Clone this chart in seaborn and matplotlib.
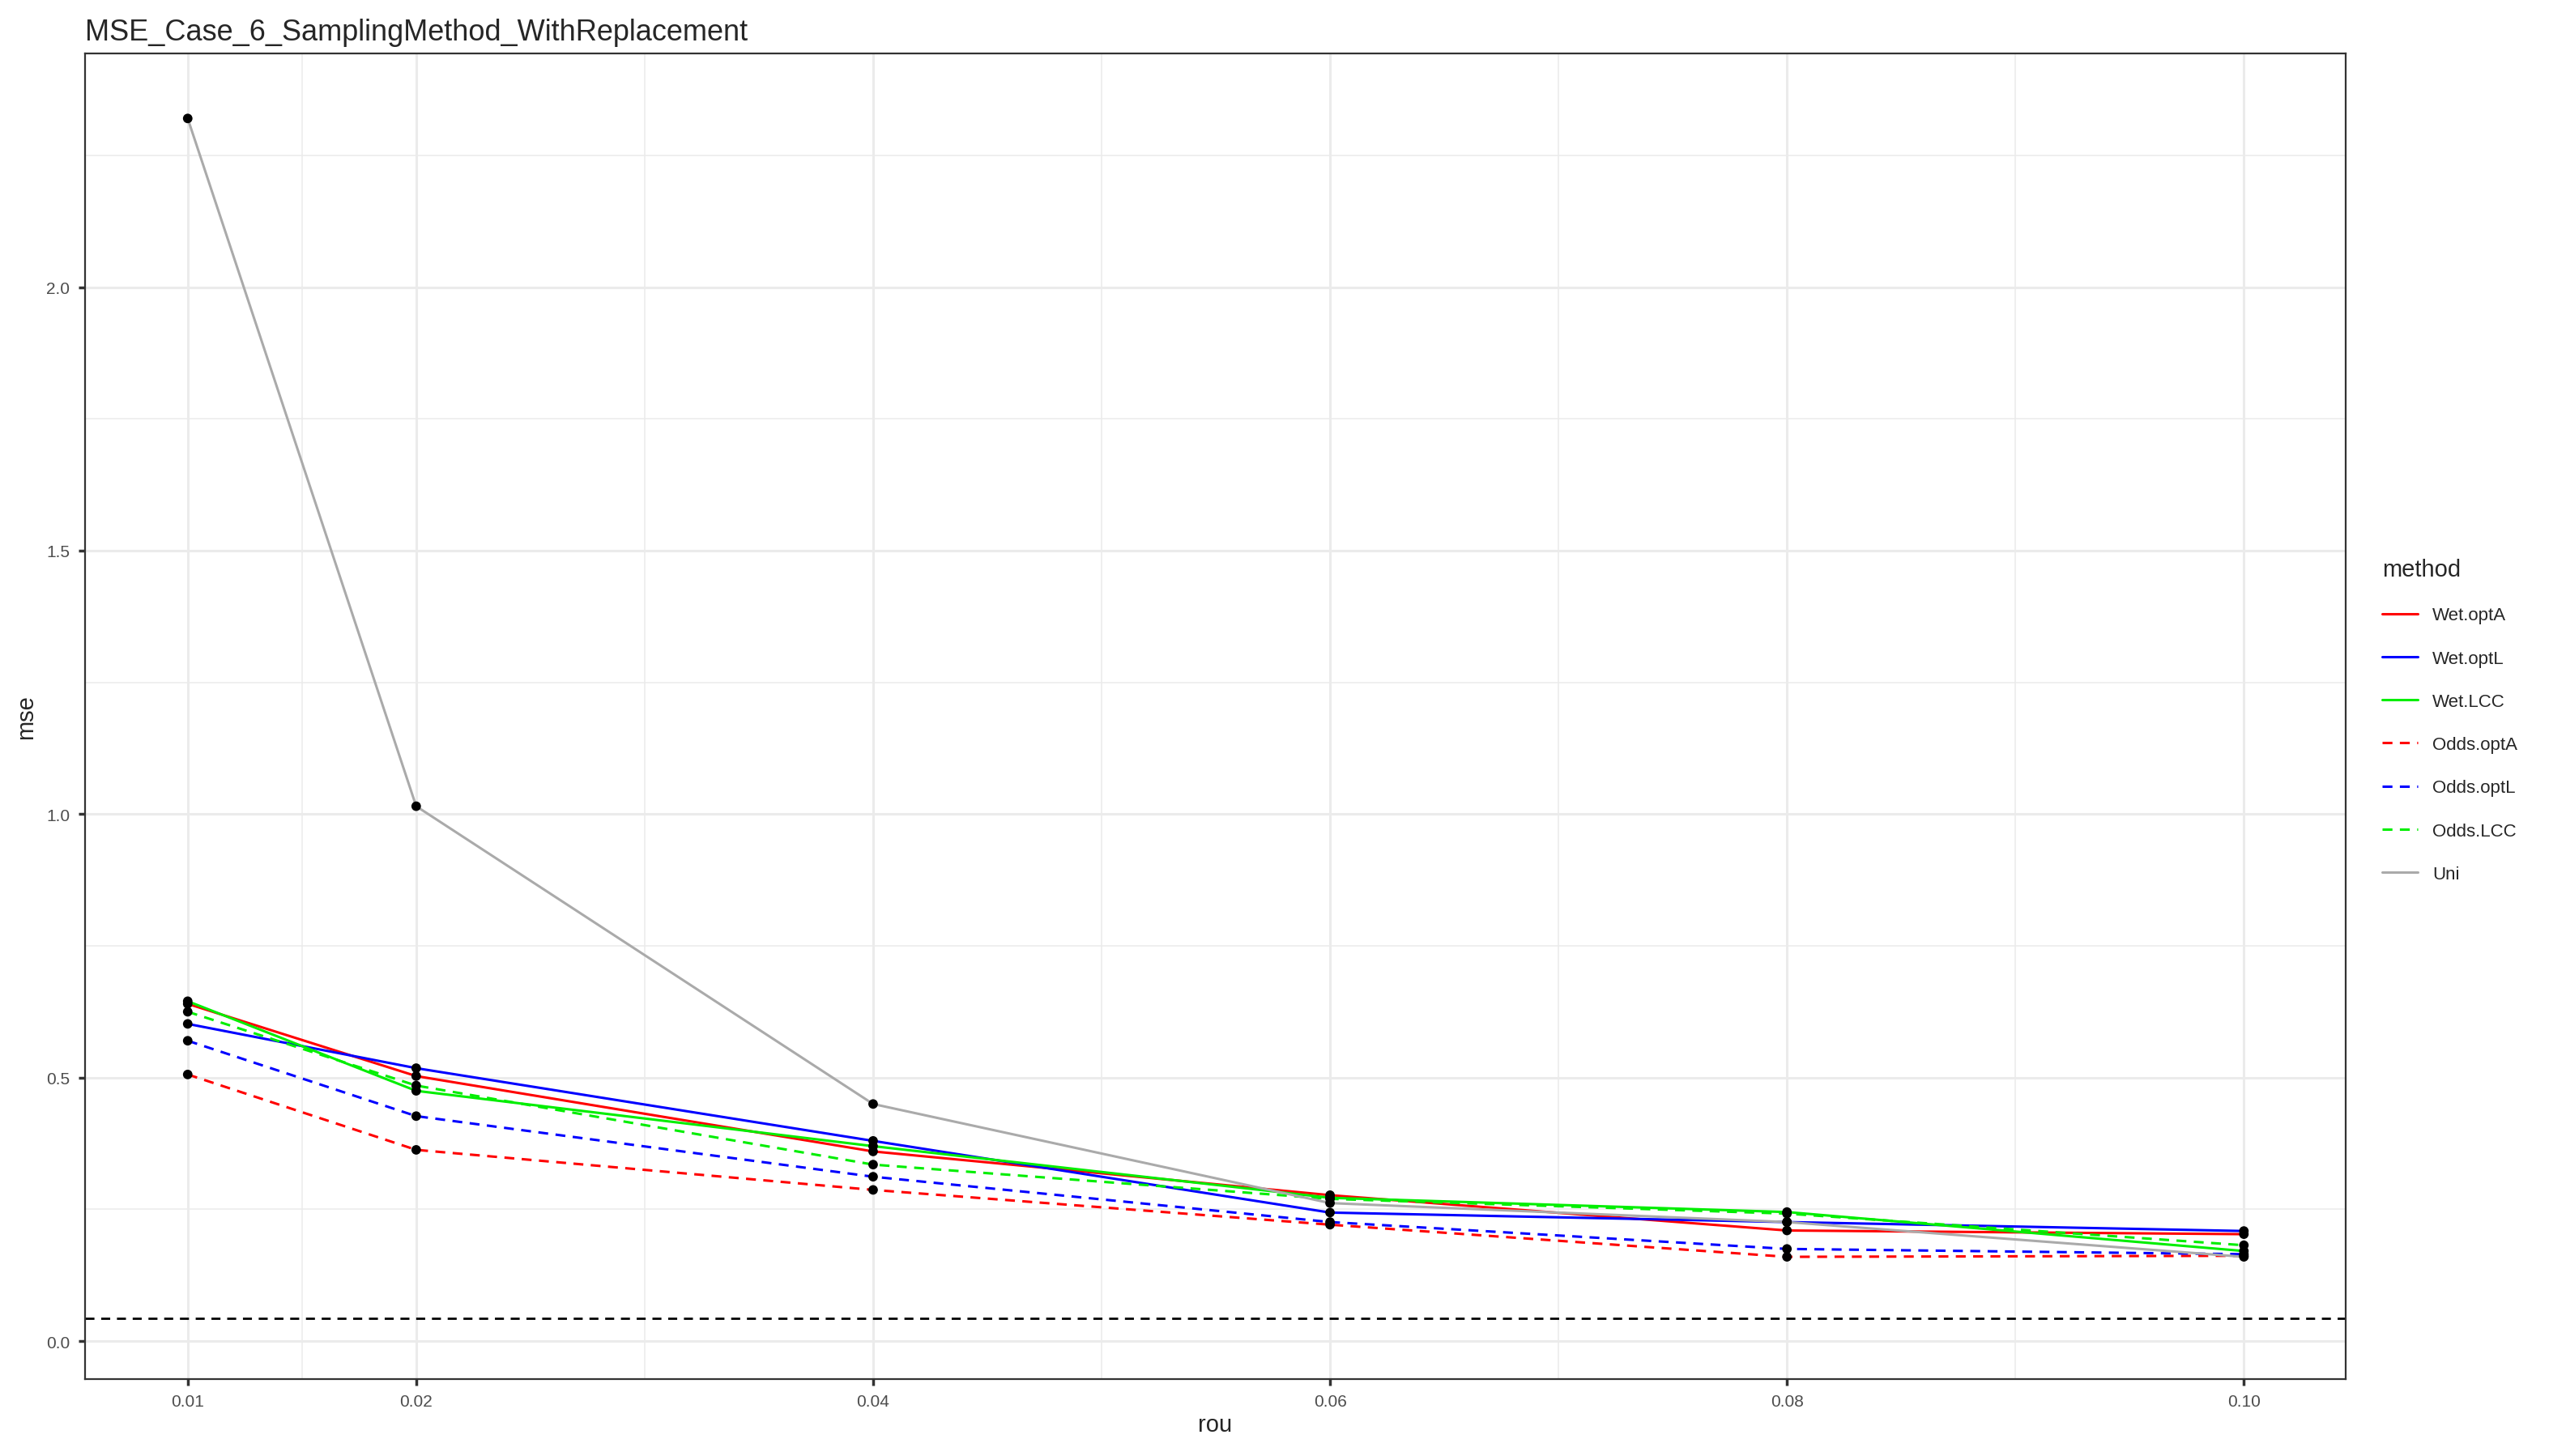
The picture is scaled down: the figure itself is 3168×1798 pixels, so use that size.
import numpy as np
import pandas as pd
import seaborn as sns
import matplotlib.pyplot as plt
from matplotlib.lines import Line2D

rou = [0.01, 0.02, 0.04, 0.06, 0.08, 0.10]
methods = ['Wet.optA', 'Wet.optL', 'Wet.LCC', 'Odds.optA', 'Odds.optL', 'Odds.LCC', 'Uni']
wet_opta = [0.640, 0.503, 0.360, 0.277, 0.210, 0.203]
wet_optl = [0.602, 0.518, 0.380, 0.244, 0.226, 0.209]
wet_lcc = [0.645, 0.475, 0.370, 0.272, 0.245, 0.171]
odds_opta = [0.506, 0.363, 0.287, 0.221, 0.160, 0.162]
odds_optl = [0.570, 0.427, 0.312, 0.226, 0.175, 0.165]
odds_lcc = [0.625, 0.485, 0.335, 0.270, 0.242, 0.182]
uni = [2.320, 1.015, 0.450, 0.262, 0.226, 0.160]
ref_line = 0.043

colors = ['#FF0000', '#0000FF', '#00EE00', '#FF0000', '#0000FF', '#00EE00', '#AAAAAA']
dashed = [False, False, False, True, True, True, False]

series = [wet_opta, wet_optl, wet_lcc, odds_opta, odds_optl, odds_lcc, uni]
df = pd.DataFrame({
    'rou': np.tile(rou, len(methods)),
    'mse': np.concatenate(series),
    'method': np.repeat(methods, len(rou)),
})

sns.set_theme(style='white')
plt.rcParams['font.family'] = ['Liberation Sans', 'DejaVu Sans']

fig = plt.figure(figsize=(15.84, 8.995), dpi=200)
ax = fig.add_axes([0.033, 0.053, 0.881, 0.910])

ax.set_xlim(0.00549, 0.10444)
ax.set_ylim(-0.0714, 2.444)
ax.set_xticks(rou)
ax.set_xticklabels([f'{r:.2f}' for r in rou])
ax.set_xticks([0.015, 0.03, 0.05, 0.07, 0.09], minor=True)
ax.set_yticks([0, 0.5, 1.0, 1.5, 2.0])
ax.set_yticklabels(['0.0', '0.5', '1.0', '1.5', '2.0'])
ax.set_yticks([0.25, 0.75, 1.25, 1.75, 2.25], minor=True)
ax.grid(which='major', color='#EBEBEB', linewidth=1.1)
ax.grid(which='minor', color='#EBEBEB', linewidth=0.55)
ax.set_axisbelow(True)

pal = dict(zip(methods, colors))
dash_map = {m: ((4, 3) if d else '') for m, d in zip(methods, dashed)}
sns.lineplot(data=df, x='rou', y='mse', hue='method', style='method',
             hue_order=methods, style_order=methods, palette=pal,
             dashes=dash_map, linewidth=1.1, legend=False, ax=ax, zorder=2)
sns.scatterplot(data=df, x='rou', y='mse', color='black', s=18,
                edgecolor='none', legend=False, ax=ax, zorder=3)
ax.axhline(ref_line, color='black', linestyle=(0, (4, 3)), linewidth=1.0, zorder=2)

for s in ax.spines.values():
    s.set_color('#333333')
    s.set_linewidth(0.8)
ax.tick_params(which='major', length=3, color='#333333', labelsize=7.5,
               labelcolor='#4D4D4D', bottom=True, left=True)
ax.tick_params(which='minor', length=0)
ax.set_xlabel('rou', fontsize=10.5, labelpad=2)
ax.set_ylabel('mse', fontsize=10.5, labelpad=4)
ax.set_title('MSE_Case_6_SamplingMethod_WithReplacement', loc='left',
             fontsize=13, pad=6)

handles = [Line2D([0], [0], color=c, linewidth=1.1,
                  linestyle=(0, (4, 3)) if d else '-')
           for c, d in zip(colors, dashed)]
leg = fig.legend(handles, methods, title='method', loc='center left',
                 bbox_to_anchor=(0.922, 0.505), frameon=False, fontsize=8,
                 title_fontsize=10.5, handlelength=2.0, labelspacing=1.45,
                 alignment='left')

fig.savefig('out.png', dpi=200)
